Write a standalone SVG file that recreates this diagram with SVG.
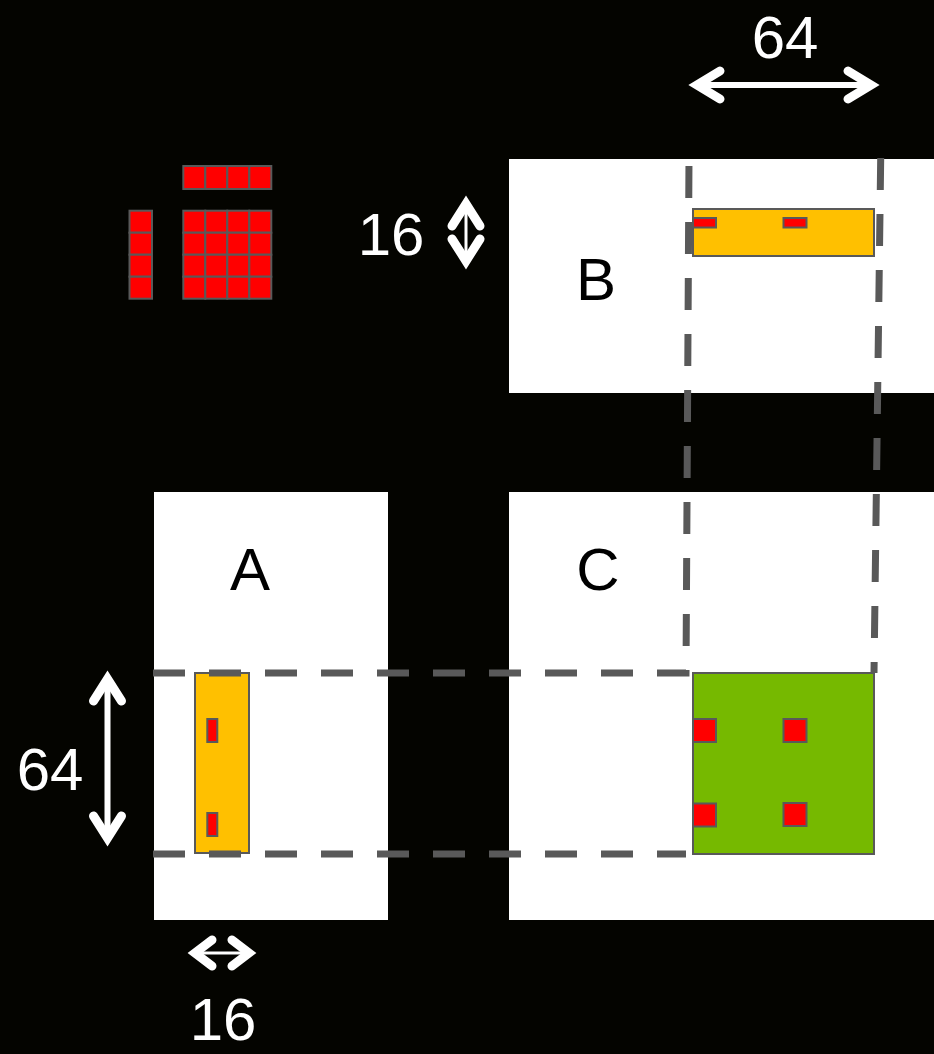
<svg xmlns="http://www.w3.org/2000/svg" width="934" height="1054" viewBox="0 0 934 1054">
<defs>
<style>
.box{fill:#ffffff;}
.cell{fill:#ff0000;stroke:#595959;stroke-width:2;}
.orange{fill:#ffc000;stroke:#595959;stroke-width:2;}
.green{fill:#76b900;stroke:#595959;stroke-width:2;}
.dash{fill:none;stroke:#595959;stroke-width:7;stroke-dasharray:32 24;}
.arr{fill:none;stroke:#ffffff;stroke-width:6;}
.head{fill:none;stroke:#ffffff;stroke-width:9;stroke-linecap:round;stroke-linejoin:miter;stroke-miterlimit:10;}
.lbl{font-family:"Liberation Sans",Arial,sans-serif;font-size:60px;text-anchor:middle;}
.white{fill:#ffffff;}
.black{fill:#000000;}
</style>
</defs>
<rect x="0" y="0" width="934" height="1054" fill="#040400"/>

<g id="legend">
  <rect class="cell" x="183.3" y="166" width="22" height="23"/>
  <rect class="cell" x="205.3" y="166" width="22" height="23"/>
  <rect class="cell" x="227.3" y="166" width="22" height="23"/>
  <rect class="cell" x="249.3" y="166" width="22" height="23"/>
  <rect class="cell" x="129.5" y="210.7" width="22.5" height="22"/>
  <rect class="cell" x="129.5" y="232.7" width="22.5" height="22"/>
  <rect class="cell" x="129.5" y="254.7" width="22.5" height="22"/>
  <rect class="cell" x="129.5" y="276.7" width="22.5" height="22"/>
  <rect class="cell" x="183.3" y="210.7" width="22" height="22"/>
  <rect class="cell" x="205.3" y="210.7" width="22" height="22"/>
  <rect class="cell" x="227.3" y="210.7" width="22" height="22"/>
  <rect class="cell" x="249.3" y="210.7" width="22" height="22"/>
  <rect class="cell" x="183.3" y="232.7" width="22" height="22"/>
  <rect class="cell" x="205.3" y="232.7" width="22" height="22"/>
  <rect class="cell" x="227.3" y="232.7" width="22" height="22"/>
  <rect class="cell" x="249.3" y="232.7" width="22" height="22"/>
  <rect class="cell" x="183.3" y="254.7" width="22" height="22"/>
  <rect class="cell" x="205.3" y="254.7" width="22" height="22"/>
  <rect class="cell" x="227.3" y="254.7" width="22" height="22"/>
  <rect class="cell" x="249.3" y="254.7" width="22" height="22"/>
  <rect class="cell" x="183.3" y="276.7" width="22" height="22"/>
  <rect class="cell" x="205.3" y="276.7" width="22" height="22"/>
  <rect class="cell" x="227.3" y="276.7" width="22" height="22"/>
  <rect class="cell" x="249.3" y="276.7" width="22" height="22"/>
</g>

<g id="matrixB">
  <rect class="box" x="509" y="159" width="425" height="234"/>
  <text class="lbl black" x="596" y="300">B</text>
</g>

<g id="matrixA">
  <rect class="box" x="154" y="492" width="234" height="428"/>
  <text class="lbl black" x="250" y="590">A</text>
  <rect class="orange" x="195" y="673" width="54" height="180"/>
  <rect class="cell" x="207.3" y="719" width="10" height="23"/>
  <rect class="cell" x="207.3" y="813" width="10" height="23"/>
</g>

<g id="matrixC">
  <rect class="box" x="509" y="492" width="425" height="428"/>
  <text class="lbl black" x="598" y="590">C</text>
</g>

<g id="connectors">
  <path class="dash" d="M153,673 L686,673 L689,158"/>
  <path class="dash" d="M153,854 L686,854"/>
  <path class="dash" d="M880.7,158 L874,673"/>
  <line class="arr" x1="695" y1="85" x2="872" y2="85"/>
  <path class="head" d="M720,71 L697,85 L720,99"/>
  <path class="head" d="M848,71 L871,85 L848,99"/>
  <line class="arr" x1="107.5" y1="680" x2="107.5" y2="838"/>
  <path class="head" d="M93.5,701 L107.5,679 L121.5,701"/>
  <path class="head" d="M93.5,816 L107.5,838 L121.5,816"/>
  <line x1="466" y1="205" x2="466" y2="262" stroke="#ffffff" stroke-width="3"/>
  <path class="head" d="M452,226 L466,204 L480,226"/>
  <path class="head" d="M452,239 L466,261 L480,239"/>
  <line x1="196" y1="953" x2="248" y2="953" stroke="#ffffff" stroke-width="3"/>
  <path class="head" d="M212,940 L195,953 L212,966"/>
  <path class="head" d="M232,940 L249,953 L232,966"/>
</g>

<g id="tileB">
  <rect class="orange" x="693" y="209" width="181" height="47"/>
  <rect class="cell" x="693" y="218" width="23" height="9.5"/>
  <rect class="cell" x="783.5" y="218" width="23" height="9.5"/>
</g>

<g id="tileC">
  <rect class="green" x="693" y="673" width="181" height="181"/>
  <rect class="cell" x="693" y="719" width="23" height="23"/>
  <rect class="cell" x="783.5" y="719" width="23" height="23"/>
  <rect class="cell" x="693" y="803.5" width="23" height="23"/>
  <rect class="cell" x="783.5" y="803" width="23" height="23"/>
</g>

<g id="labels">
  <text class="lbl white" x="785" y="58">64</text>
  <text class="lbl white" x="391" y="255">16</text>
  <text class="lbl white" x="50" y="790">64</text>
  <text class="lbl white" x="223" y="1040">16</text>
</g>
</svg>
